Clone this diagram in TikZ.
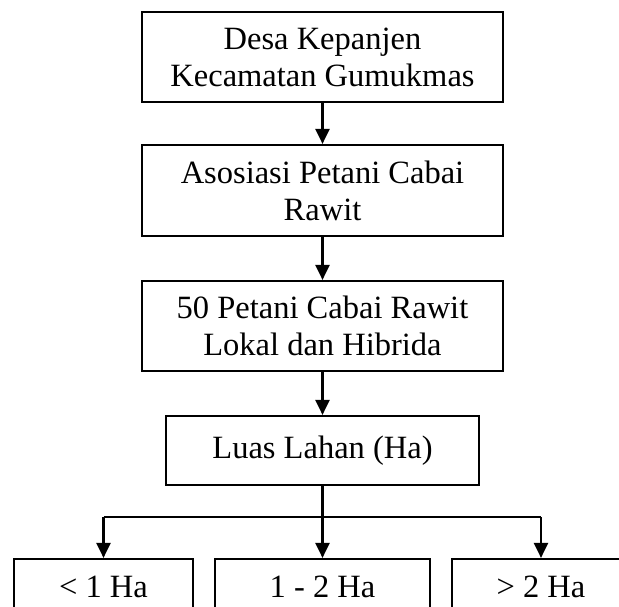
\documentclass[tikz,border=0pt]{standalone}
\usepackage{fontspec}
\setmainfont{Liberation Serif}
\usetikzlibrary{arrows.meta}
\begin{document}
\begin{tikzpicture}[x=1pt,y=-1pt,
  box/.style={draw,line width=2.2pt,inner sep=0pt,align=center,font=\fontsize{32.5}{37}\selectfont},
  ln/.style={line width=2.2pt},
  arr/.style={line width=2.2pt,-{Triangle[width=14pt,length=15pt]}}]
\useasboundingbox (0,0) rectangle (619,606);
\clip (0,0) rectangle (619,606);
\node[box,minimum width=361pt,minimum height=90pt] (n1) at (322.5,57) {Desa Kepanjen\\Kecamatan Gumukmas};
\node[box,minimum width=361pt,minimum height=91pt] (n2) at (322.5,190.5) {Asosiasi Petani Cabai\\Rawit};
\node[box,minimum width=361pt,minimum height=90pt] (n3) at (322.5,326) {50 Petani Cabai Rawit\\Lokal dan Hibrida};
\node[box,minimum width=313pt,minimum height=69pt] (n4) at (322.5,450.5) {Luas Lahan (Ha)};
\node[box,minimum width=179pt,minimum height=56pt] (b1) at (103.5,587) {< 1 Ha};
\node[box,minimum width=215pt,minimum height=56pt] (b2) at (322.5,587) {1 - 2 Ha};
\node[box,minimum width=178pt,minimum height=56pt] (b3) at (541,587) {> 2 Ha};
\draw[arr] (n1) -- (n2);
\draw[arr] (n2) -- (n3);
\draw[arr] (n3) -- (n4);
\coordinate (br) at (322.5,517);
\draw[ln] (n4.south) -- (br);
\draw[ln] (b1.north |- br) -- (b3.north |- br);
\draw[arr] (b1.north |- br) -- (b1.north);
\draw[arr] (br) -- (b2.north);
\draw[arr] (b3.north |- br) -- (b3.north);
\end{tikzpicture}
\end{document}
